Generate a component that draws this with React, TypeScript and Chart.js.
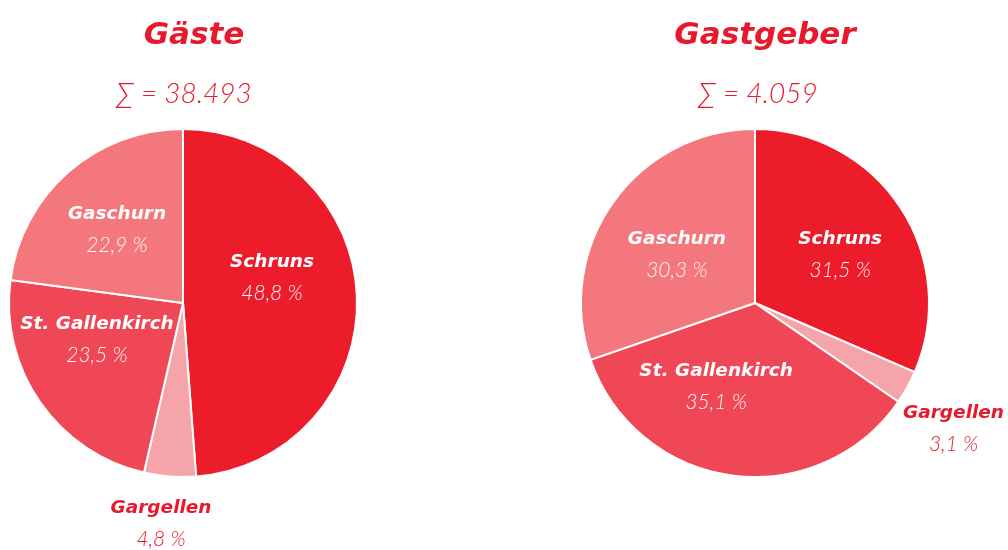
import React, { useEffect, useRef } from "react";
import { Chart, registerables } from "chart.js";

Chart.register(...registerables);

const categories = ["Schruns", "Gargellen", "St. Gallenkirch", "Gaschurn"];
const guestValues = [48.8, 4.8, 23.5, 22.9];
const hostValues = [31.5, 3.1, 35.1, 30.3];
const guestPctLabels = ["48,8 %", "4,8 %", "23,5 %", "22,9 %"];
const hostPctLabels = ["31,5 %", "3,1 %", "35,1 %", "30,3 %"];
const guestTitle = "Gäste";
const hostTitle = "Gastgeber";
const guestSum = "∑ = 38.493";
const hostSum = "∑ = 4.059";
const sliceColors = ["#ED1C2B", "#F5A5AA", "#EF4756", "#F3777D"];
// label placement: [angle from 12 o'clock clockwise (deg), fraction of radius]
const guestLabelPolar = [[73.7, 0.533], [185.7, 1.27], [247.3, 0.536], [318.3, 0.57]];
const hostLabelPolar = [[60, 0.565], [122.3, 1.35], [204.9, 0.53], [302.1, 0.53]];

const RED = "#E8192C";

function makeLabelPlugin(pcts: string[], polar: number[][]) {
  return {
    id: "sliceLabels",
    afterDatasetsDraw(chart: any) {
      const ctx = chart.ctx;
      const meta = chart.getDatasetMeta(0);
      meta.data.forEach((arc: any, i: number) => {
        const { x, y, outerRadius } = arc.getProps(["x", "y", "outerRadius"], true);
        const [deg, f] = polar[i];
        const rad = ((deg - 90) * Math.PI) / 180;
        const px = x + Math.cos(rad) * f * outerRadius;
        const py = y + Math.sin(rad) * f * outerRadius;
        const outside = f > 1;
        ctx.save();
        ctx.textAlign = "center";
        ctx.textBaseline = "middle";
        ctx.fillStyle = outside ? RED : "#FFFFFF";
        ctx.font = "oblique 700 18.5px 'DejaVu Sans'";
        ctx.fillText(chart.data.labels[i], px, py - 15);
        ctx.font = "italic 300 21px Lato";
        ctx.fillStyle = outside ? RED : "rgba(255,255,255,0.95)";
        ctx.fillText(pcts[i], px, py + 16);
        ctx.restore();
      });
    },
  };
}

function PieCanvas(props: { values: number[]; pcts: string[]; polar: number[][]; left: number; width: number }) {
  const ref = useRef<HTMLCanvasElement>(null);
  useEffect(() => {
    if (!ref.current) return;
    const chart = new Chart(ref.current, {
      type: "pie",
      data: {
        labels: categories,
        datasets: [
          {
            data: props.values,
            backgroundColor: sliceColors,
            borderColor: "#FFFFFF",
            borderWidth: 2,
          },
        ],
      },
      options: {
        responsive: false,
        animation: false,
        layout: { padding: { top: 128, bottom: 72, left: 0, right: 0 } },
        plugins: { legend: { display: false }, tooltip: { enabled: false }, title: { display: false } },
      },
      plugins: [makeLabelPlugin(props.pcts, props.polar)],
    });
    return () => chart.destroy();
  }, []);
  return (
    <canvas
      ref={ref}
      width={props.width}
      height={550}
      style={{ position: "absolute", left: props.left, top: 0, width: props.width, height: 550 }}
    />
  );
}

const titleStyle: React.CSSProperties = {
  position: "absolute",
  top: 11,
  textAlign: "center",
  color: RED,
  fontFamily: "'DejaVu Sans', sans-serif",
  fontStyle: "oblique",
  fontWeight: 700,
  fontSize: 31,
  lineHeight: "44px",
  width: 400,
};
const sumStyle: React.CSSProperties = {
  position: "absolute",
  top: 70,
  textAlign: "center",
  color: RED,
  fontFamily: "Lato, sans-serif",
  fontStyle: "italic",
  fontWeight: 300,
  fontSize: 28,
  lineHeight: "44px",
  width: 400,
};

export default function App() {
  return (
    <div style={{ position: "fixed", left: 0, top: 0, width: 1008, height: 550, background: "#FFFFFF", overflow: "hidden" }}>
      <PieCanvas values={guestValues} pcts={guestPctLabels} polar={guestLabelPolar} left={0} width={366} />
      <PieCanvas values={hostValues} pcts={hostPctLabels} polar={hostLabelPolar} left={502} width={506} />
      <div style={{ ...titleStyle, left: 194 - 200 }}>{guestTitle}</div>
      <div style={{ ...titleStyle, left: 765 - 200 }}>{hostTitle}</div>
      <div style={{ ...sumStyle, left: 184 - 200 }}>{guestSum}</div>
      <div style={{ ...sumStyle, left: 758 - 200 }}>{hostSum}</div>
    </div>
  );
}
